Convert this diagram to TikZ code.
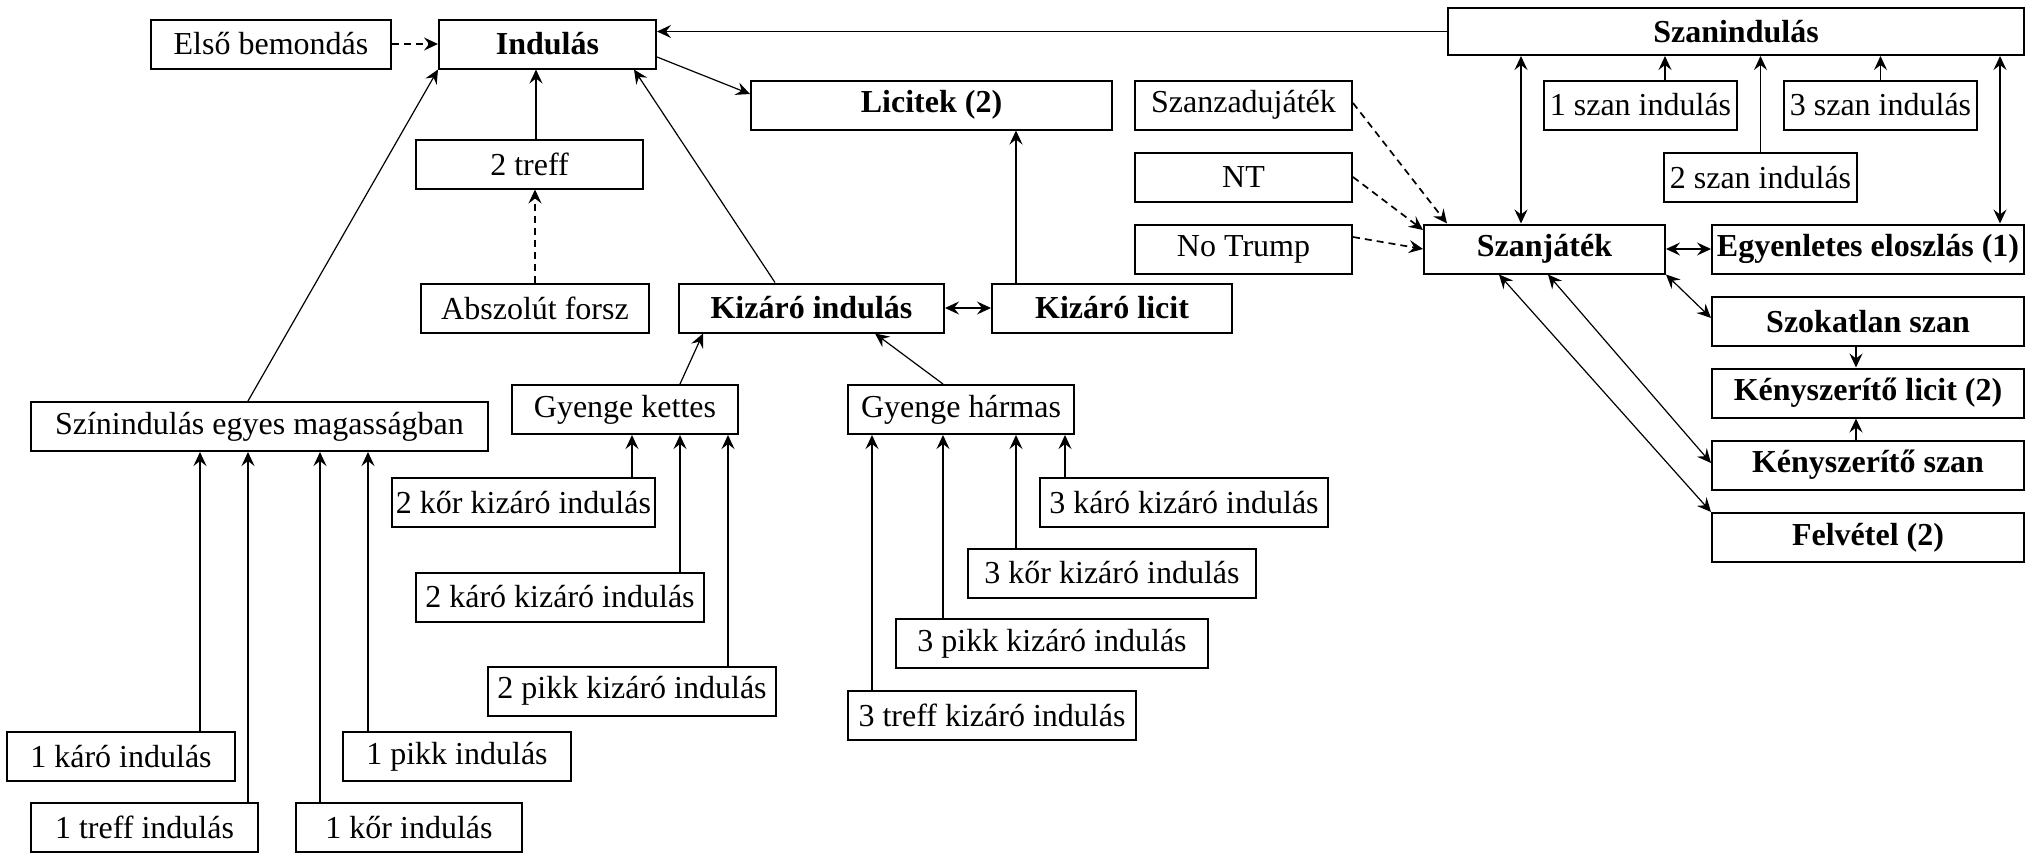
\documentclass[tikz,border=0pt]{standalone}
\usepackage{fontspec}
\setmainfont{Liberation Serif}
\usetikzlibrary{arrows.meta}

\begin{document}
\begin{tikzpicture}[x=0.5pt,y=-0.5pt,
    >={Stealth[length=7pt,width=6.5pt,inset=2.5pt]},
    font=\fontsize{16}{19}\selectfont,
    boldbox/.style={font=\fontsize{16}{19}\selectfont\bfseries},
    dashline/.style={line width=0.85pt,dash pattern=on 3.5pt off 2.5pt}]
    \useasboundingbox (0,0) rectangle (2026,862);
    \begin{scope}[every node/.style={draw,line width=1pt,minimum height=24.5pt,inner sep=0pt}]
      \node[minimum width=120pt] (elso) at (271,44) {Első bemondás};
      \node[boldbox,minimum width=108.5pt] (ind) at (547.5,44) {Indulás};
      \node[boldbox,minimum width=180.5pt] (lic) at (931.5,105) {Licitek (2)};
      \node[minimum width=113.5pt] (treff2) at (529.5,164) {2 treff};
      \node[minimum width=114pt] (absz) at (535,308) {Abszolút forsz};
      \node[boldbox,minimum width=132.5pt] (kizind) at (811.5,308) {Kizáró indulás};
      \node[boldbox,minimum width=120pt] (kizlic) at (1112,308) {Kizáró licit};
      \node[minimum width=108.5pt] (szanzad) at (1243.5,105) {Szanzadujáték};
      \node[minimum width=108.5pt] (nt) at (1243.5,177.5) {NT};
      \node[minimum width=108.5pt] (notrump) at (1243.5,249) {No Trump};
      \node[boldbox,minimum width=288pt,minimum height=23.5pt] (szanind) at (1736,31.5) {Szanindulás};
      \node[minimum width=96.5pt] (szan1) at (1640.5,105) {1 szan indulás};
      \node[minimum width=96.5pt] (szan3) at (1880.5,105) {3 szan indulás};
      \node[minimum width=96.5pt] (szan2) at (1760.5,177.5) {2 szan indulás};
      \node[boldbox,minimum width=120.5pt] (szanjat) at (1544.5,249) {Szanjáték};
      \node[boldbox,minimum width=156pt] (egyen) at (1868,249) {Egyenletes eloszlás (1)};
      \node[boldbox,minimum width=156pt] (szokat) at (1868,321.5) {Szokatlan szan};
      \node[boldbox,minimum width=156pt] (kenylic) at (1868,393) {Kényszerítő licit (2)};
      \node[boldbox,minimum width=156pt] (kenyszan) at (1868,465) {Kényszerítő szan};
      \node[boldbox,minimum width=156pt] (felv) at (1868,537.5) {Felvétel (2)};
      \node[minimum width=228.5pt] (szin) at (259.5,426.5) {Színindulás egyes magasságban};
      \node[minimum width=113pt] (gyk) at (625,409.5) {Gyenge kettes};
      \node[minimum width=113pt] (gyh) at (961,409.5) {Gyenge hármas};
      \node[minimum width=131.5pt] (kor2) at (523.5,502.5) {2 kőr kizáró indulás};
      \node[minimum width=144pt] (karo2) at (560,597) {2 káró kizáró indulás};
      \node[minimum width=144pt] (pikk2) at (632,691) {2 pikk kizáró indulás};
      \node[minimum width=144pt] (karo3) at (1184,502.5) {3 káró kizáró indulás};
      \node[minimum width=144pt] (kor3) at (1112,573) {3 kőr kizáró indulás};
      \node[minimum width=156pt] (pikk3) at (1052,643.5) {3 pikk kizáró indulás};
      \node[minimum width=144pt] (treff3) at (992,715) {3 treff kizáró indulás};
      \node[minimum width=114pt] (karo1) at (121,756.5) {1 káró indulás};
      \node[minimum width=114pt] (pikk1) at (457,756.5) {1 pikk indulás};
      \node[minimum width=113.5pt] (treff1) at (144.5,827.5) {1 treff indulás};
      \node[minimum width=113pt] (kor1) at (409,827.5) {1 kőr indulás};
    \end{scope}
    \begin{scope}[every edge/.style={draw=black,line width=0.6pt,->}]
      \path (elso) edge[dashline] (ind);
      \path (szanind.west) edge (szanind.west -| ind.east);
      \path (ind.east |- 0,57) edge (lic.west |- 0,94);
      \path (treff2.north -| 536,0) edge (ind.south -| 536,0);
      \path (absz.north) edge[dashline] (absz.north |- treff2.south);
      \path (szin.north -| 248,0) edge (ind.south west);
      \path (kizind.north -| 775,0) edge (ind.south -| 634,0);
      \path (kizind) edge[<->] (kizlic);
      \path (kizlic.north -| 1016,0) edge (lic.south -| 1016,0);
      \path (gyk.north -| 680,0) edge (kizind.south -| 703,0);
      \path (gyh.north -| 943,0) edge (kizind.south -| 875,0);
      \path (karo1.north -| 200,0) edge (szin.south -| 200,0);
      \path (treff1.north -| 248,0) edge (szin.south -| 248,0);
      \path (kor1.north -| 320,0) edge (szin.south -| 320,0);
      \path (pikk1.north -| 368,0) edge (szin.south -| 368,0);
      \path (kor2.north -| 632,0) edge (gyk.south -| 632,0);
      \path (karo2.north -| 680,0) edge (gyk.south -| 680,0);
      \path (pikk2.north -| 728,0) edge (gyk.south -| 728,0);
      \path (treff3.north -| 872,0) edge (gyh.south -| 872,0);
      \path (pikk3.north -| 943,0) edge (gyh.south -| 943,0);
      \path (kor3.north -| 1016,0) edge (gyh.south -| 1016,0);
      \path (karo3.north -| 1065,0) edge (gyh.south -| 1065,0);
      \path (szanzad.east |- 0,103) edge[dashline] (szanjat.north -| 1447,0);
      \path (nt.east |- 0,177) edge[dashline] (szanjat.west |- 0,230);
      \path (notrump.east |- 0,237) edge[dashline] (szanjat.west);
      \path (szan1.north -| 1665,0) edge (szanind.south -| 1665,0);
      \path (szan2.north) edge (szan2.north |- szanind.south);
      \path (szan3.north) edge (szan3.north |- szanind.south);
      \path (szanind.south -| 1521,0) edge[<->] (szanjat.north -| 1521,0);
      \path (szanind.south -| 2000,0) edge[<->] (egyen.north -| 2000,0);
      \path (szanjat) edge[<->] (egyen);
      \path (szanjat.south east) edge[<->] (szokat.west |- 0,318);
      \path (szanjat.south -| 1548,0) edge[<->] (kenyszan.west |- 0,463);
      \path (szanjat.south -| 1499,0) edge[<->] (felv.north west);
      \path (szokat.south -| 1856,0) edge (kenylic.north -| 1856,0);
      \path (kenyszan.north -| 1856,0) edge (kenylic.south -| 1856,0);
    \end{scope}
  \end{tikzpicture}
\end{document}
